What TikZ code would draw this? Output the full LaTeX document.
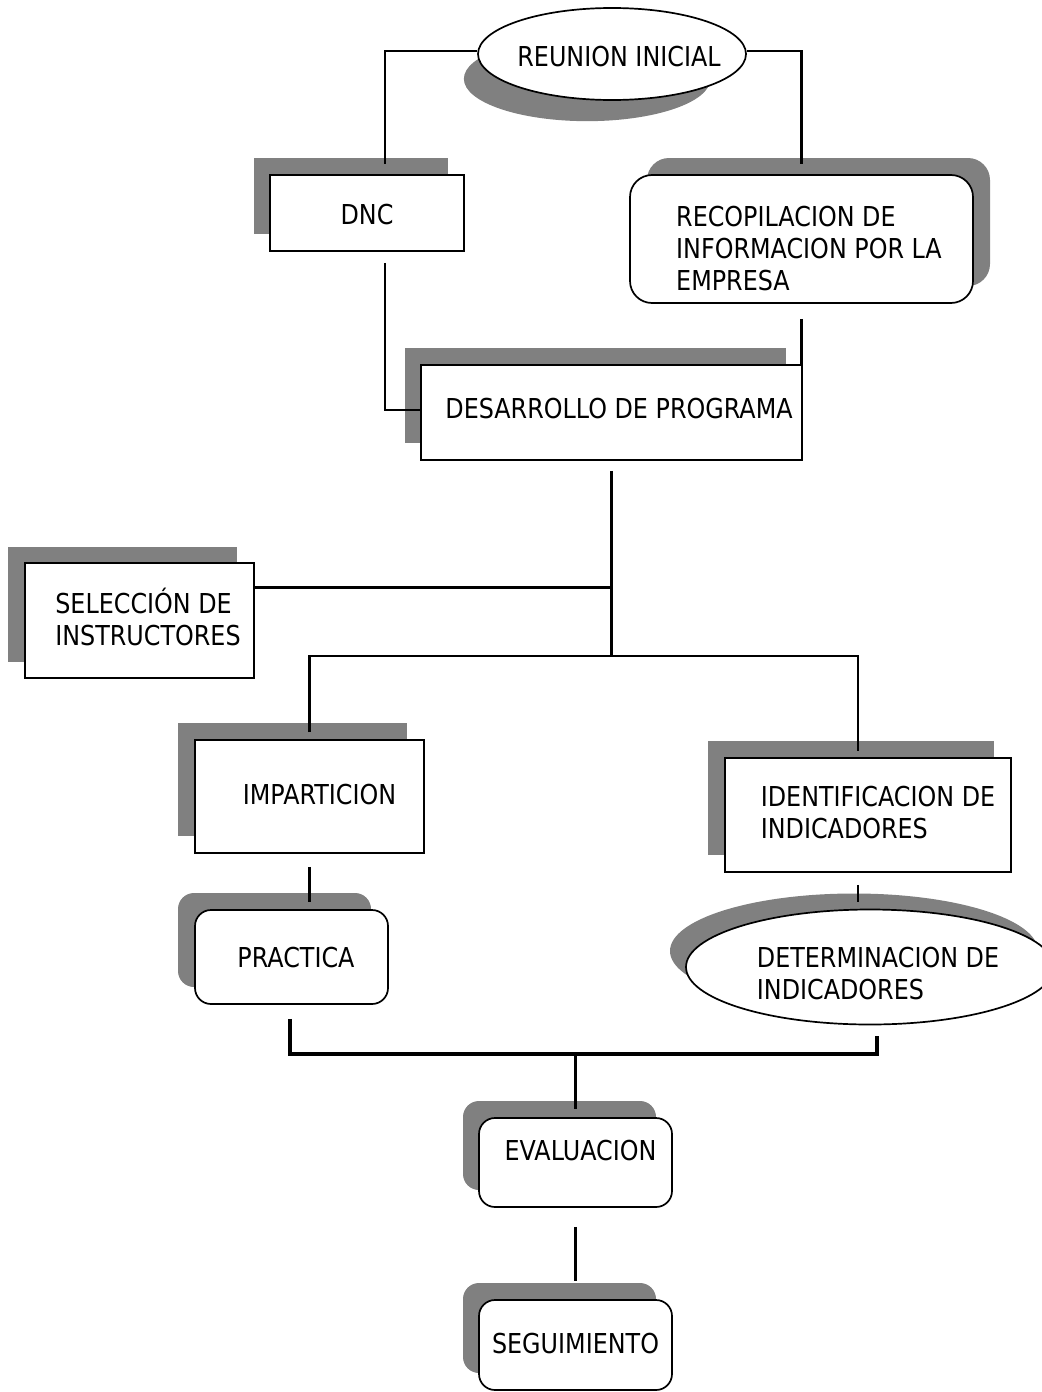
\documentclass[tikz,border=0pt]{standalone}
\usepackage{fontspec}
\setmainfont[FakeStretch=0.87]{DejaVu Sans}
\usetikzlibrary{shapes.geometric,shadows}

% text of a box: shifted right by #1/2 and up by #2, no width of its own
\newcommand{\boxlines}[3]{\makebox[0pt]{\raisebox{#2}[\height][\depth]{\hspace*{#1}\begin{tabular}{@{}l@{}}#3\end{tabular}}}}

\begin{document}
\begin{tikzpicture}[x=0.5pt,y=-0.5pt,
    every node/.style={font=\fontsize{13.7}{16}\selectfont, inner sep=0pt},
    caja/.style 2 args={rectangle, draw=black, fill=white, line width=0.85pt, minimum width=#1, minimum height=#2},
    cajar/.style 2 args={caja={#1}{#2}, rounded corners=8pt},
    ovalo/.style 2 args={ellipse, draw=black, fill=white, line width=0.85pt, minimum width=#1, minimum height=#2},
    sombra/.style 2 args={drop shadow={shadow xshift=#1, shadow yshift=#2, fill=gray, opacity=1}},
    linea/.style={line width=1.3pt}]
\useasboundingbox (0,0) rectangle (1041,1392);

\node[ovalo={134pt}{46pt}, drop shadow={shadow xshift=-13.5pt, shadow yshift=-13.5pt, shadow scale=0.92, fill=gray, opacity=1}] (reunion) at (612,54) {\boxlines{7pt}{-2.8pt}{REUNION INICIAL}};
\node[caja={97pt}{38pt}, sombra={-8pt}{8.5pt}] (dnc) at (367,213) {\boxlines{0pt}{-2.5pt}{DNC}};
\node[cajar={171.5pt}{64pt}, rounded corners=11pt, sombra={8.5pt}{8.5pt}] (recop) at (801.5,239)
    {\boxlines{7.5pt}{-6.3pt}{RECOPILACION DE\\INFORMACION POR LA\\EMPRESA}};
\node[caja={190.5pt}{47.5pt}, sombra={-8pt}{8.5pt}] (desarrollo) at (611.5,412.5) {\boxlines{7.5pt}{0pt}{DESARROLLO DE PROGRAMA}};
\node[caja={114.5pt}{57.5pt}, sombra={-8.5pt}{8pt}] (seleccion) at (139.5,620.5) {\boxlines{8.5pt}{-0.5pt}{SELECCIÓN DE\\INSTRUCTORES}};
\node[caja={114.5pt}{56.5pt}, sombra={-8.5pt}{8.5pt}] (imparticion) at (309.5,796.5) {\boxlines{10pt}{-1pt}{IMPARTICION}};
\node[caja={143pt}{57pt}, sombra={-8.5pt}{8.5pt}] (identificacion) at (868,815) {\boxlines{10pt}{-0.3pt}{IDENTIFICACION DE\\INDICADORES}};
\node[cajar={96.5pt}{47pt}, sombra={-8.5pt}{8.5pt}] (practica) at (291.5,957) {\boxlines{4.5pt}{-1.8pt}{PRACTICA}};
\node[ovalo={184pt}{57.5pt}, sombra={-8pt}{8pt}] (determinacion) at (870,967) {\boxlines{8pt}{-4.8pt}{DETERMINACION DE\\INDICADORES}};
\node[cajar={96.5pt}{44.5pt}, sombra={-8pt}{8.5pt}] (evaluacion) at (575.5,1162.5) {\boxlines{5pt}{4.4pt}{EVALUACION}};
\node[cajar={96.5pt}{45pt}, sombra={-8pt}{8.5pt}] (seguimiento) at (575.5,1345) {\boxlines{0pt}{-0.8pt}{SEGUIMIENTO}};

\coordinate (reparto) at (611.5,656);
\coordinate (union) at (575.5,1054);

% connectors
\draw[linea] ([yshift=1.5pt]reunion.west) -| ([xshift=9pt,yshift=5pt]dnc.north);
\draw[linea] ([yshift=1.5pt]reunion.east) -| ([yshift=5pt]recop.north);
\draw[linea] ([xshift=9pt,yshift=-5.5pt]dnc.south) |- ([yshift=1.25pt]desarrollo.west);
\draw[linea] ([yshift=-7.5pt]recop.south) -- (recop.south |- desarrollo.north);
\draw[linea] ([yshift=-5pt]desarrollo.south) -- (reparto);
\draw[linea] ([yshift=16.5pt]seleccion.east) -- ([yshift=16.5pt]seleccion.east -| reparto);
\draw[linea] ([yshift=3.5pt]imparticion.north) |- (reparto) -| ([xshift=-5pt,yshift=3pt]identificacion.north);
\draw[linea] ([yshift=-6.5pt]imparticion.south) -- ([yshift=3.5pt]imparticion.south |- practica.north);
\draw[linea] ([xshift=-5pt,yshift=-6pt]identificacion.south) -- ([xshift=-5pt,yshift=3.5pt]identificacion.south |- determinacion.north);
\draw[linea, line width=1.6pt] ([xshift=-0.75pt,yshift=-7pt]practica.south) |- (union) -| ([xshift=3.5pt,yshift=-5.25pt]determinacion.south);
\draw[linea] (union) -- ([yshift=4pt]evaluacion.north);
\draw[linea] ([yshift=-9.5pt]evaluacion.south) -- ([yshift=9pt]seguimiento.north);
\end{tikzpicture}
\end{document}
